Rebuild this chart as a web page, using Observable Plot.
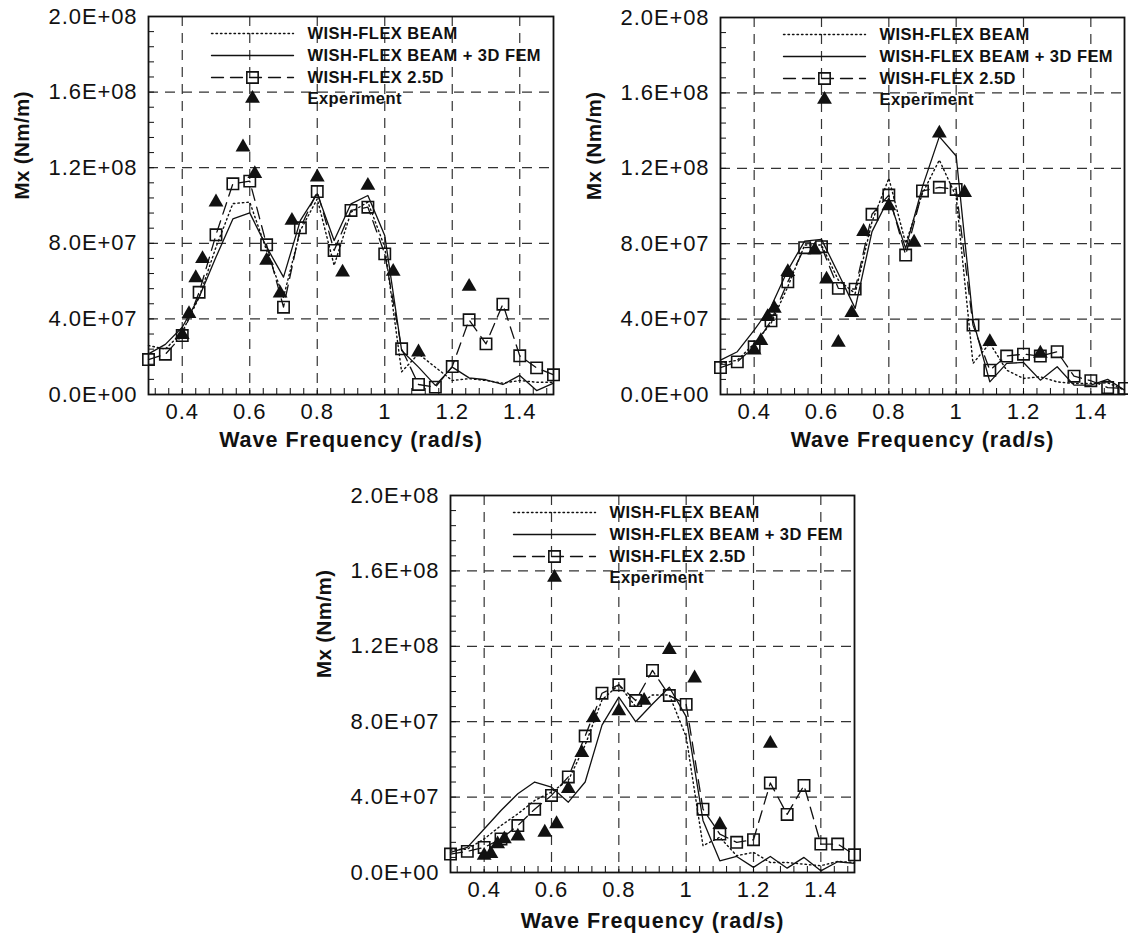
<!DOCTYPE html>
<html>
<head>
<meta charset="utf-8">
<script src="https://cdn.jsdelivr.net/npm/d3@7"></script>
<script src="https://cdn.jsdelivr.net/npm/@observablehq/plot@0.6"></script>
<style>
  html, body { margin: 0; padding: 0; background: #fff; }
  #wrap { position: relative; width: 1128px; height: 939px; overflow: hidden; }
  .panel { position: absolute; }
  .panel svg { max-width: none !important; overflow: visible; }
</style>
</head>
<body>
<div id="wrap"></div>
<script>
// ---------------- DATA (Mx values in units of 1E+07 Nm/m) ----------------
const freq = [0.30, 0.35, 0.40, 0.45, 0.50, 0.55, 0.60, 0.65, 0.70, 0.75, 0.80, 0.85, 0.90,
              0.95, 1.00, 1.05, 1.10, 1.15, 1.20, 1.25, 1.30, 1.35, 1.40, 1.45, 1.50];
const expFreq = [0.40, 0.42, 0.44, 0.46, 0.50, 0.58, 0.615, 0.65, 0.69, 0.725, 0.80, 0.875,
                 0.95, 1.025, 1.10, 1.25];

// Panel 1 (top-left)
const beam1 = [2.59, 2.40, 3.30, 5.15, 7.80, 10.10, 10.18, 7.62, 5.15, 8.68, 10.35, 6.83, 9.65,
               10.18, 7.80, 1.20, 2.15, 1.44, 0.74, 0.84, 0.74, 0.60, 0.74, 0.65, 0.65];
const fem1  = [2.15, 2.65, 3.56, 5.15, 7.27, 9.29, 9.61, 7.80, 6.21, 9.21, 10.62, 8.15, 10.09,
               10.53, 8.41, 2.33, 1.45, 0.48, 1.45, 0.88, 0.78, 0.53, 1.01, 0.21, 0.60];
const tdf1  = [1.85, 2.13, 3.12, 5.41, 8.45, 11.15, 11.29, 7.92, 4.62, 8.82, 10.74, 7.62, 9.74,
               9.91, 7.44, 2.42, 0.53, 0.39, 1.48, 3.95, 2.68, 4.78, 2.05, 1.41, 1.04];
const exp1  = [3.16, 4.27, 6.17, 7.18, 10.18, 13.09, 11.68, 7.09, 5.36, 9.21, 11.50, 6.47,
               11.06, 6.51, 2.24, 5.71];

// Panel 2 (top-right)
const beam2 = [1.65, 1.82, 2.70, 3.77, 5.72, 7.93, 7.93, 6.07, 5.36, 9.17, 11.47, 8.02, 10.67,
               12.44, 10.50, 1.65, 2.72, 1.29, 0.85, 0.94, 0.67, 0.58, 0.58, 0.62, 0.23];
const fem2  = [1.82, 2.27, 3.42, 4.65, 6.60, 8.14, 8.23, 6.42, 4.57, 8.64, 10.41, 7.75, 11.03,
               13.68, 12.65, 3.95, 0.67, 1.65, 1.70, 0.76, 1.47, 0.50, 0.50, 0.80, 0.23];
const tdf2  = [1.43, 1.73, 2.53, 3.91, 5.98, 7.79, 7.84, 5.63, 5.59, 9.56, 10.58, 7.40, 10.80,
               10.99, 10.88, 3.68, 1.29, 2.04, 2.14, 2.04, 2.27, 0.97, 0.73, 0.37, 0.32];
const exp2  = [2.35, 2.85, 4.12, 4.57, 6.51, 7.66, 6.11, 2.76, 4.34, 8.64, 10.00, 8.07,
               13.86, 10.71, 2.80, 2.18];

// Panel 3 (bottom-centre)
const beam3 = [1.19, 1.24, 1.78, 2.49, 3.11, 3.82, 4.27, 4.89, 6.76, 9.16, 9.96, 8.80, 9.42,
               9.42, 7.20, 1.42, 1.87, 0.89, 1.07, 0.53, 0.53, 0.44, 0.36, 0.59, 0.53];
const fem3  = [1.07, 1.33, 2.31, 3.29, 4.18, 4.80, 4.53, 3.73, 4.80, 7.82, 9.30, 8.00, 8.94,
               9.83, 8.27, 2.76, 0.62, 0.85, 0.27, 0.85, 0.23, 0.80, 0.09, 0.57, 0.48];
const tdf3  = [0.98, 1.12, 1.33, 1.78, 2.49, 3.36, 4.09, 5.07, 7.24, 9.51, 9.96, 9.12, 10.72,
               9.39, 8.92, 3.36, 2.04, 1.60, 1.74, 4.75, 3.08, 4.62, 1.51, 1.51, 0.94];
const exp3  = [0.90, 1.00, 1.51, 1.78, 1.92, 2.13, 2.58, 4.44, 6.35, 8.21, 8.57, 9.12,
               11.82, 10.31, 2.54, 6.84];

const UNIT = 1e7;

// Series names and axis text
const seriesNames = ["WISH-FLEX BEAM", "WISH-FLEX BEAM + 3D FEM", "WISH-FLEX 2.5D", "Experiment"];
const xTitle = "Wave Frequency (rad/s)";
const yTitle = "Mx (Nm/m)";

// Ticks
const xDomain = [0.3, 1.5];
const yDomain = [0, 2e8];
const xTicks = [0.4, 0.6, 0.8, 1, 1.2, 1.4];
const xTickLabels = ["0.4", "0.6", "0.8", "1", "1.2", "1.4"];
const yTicks = [0, 4e7, 8e7, 1.2e8, 1.6e8, 2e8];
const yTickLabels = ["0.0E+00", "4.0E+07", "8.0E+07", "1.2E+08", "1.6E+08", "2.0E+08"];
const xGrid = [0.4, 0.6, 0.8, 1, 1.2, 1.4];
const yGrid = [4e7, 8e7, 1.2e8, 1.6e8];
const xMinor = d3.range(0, 31).map(i => +(0.32 + i * 0.04).toFixed(2)).filter(v => v < 1.5);
const yMinor = d3.range(1, 25).map(i => i * 8e6);

// ---------------- DRAWING ----------------
const FONT = '"Liberation Sans", Arial, Helvetica, sans-serif';
const INK = "#111";

function table(xs, vals) { return xs.map((x, i) => ({x, y: vals[i] * UNIT})); }

function panel(cfg) {
  const {left, top, width, height, mL, mT, mR, mB, beam, fem, tdf, exp, xTitleDy} = cfg;
  const plotW = width - mL - mR, plotH = height - mT - mB;
  // legend layout (pixel offsets from the frame's top-left) converted through the domain
  const fx = px => xDomain[0] + px / plotW * (xDomain[1] - xDomain[0]);
  const fy = py => yDomain[1] - py / plotH * (yDomain[1] - yDomain[0]);
  const rows = [17, 39, 61, 82];
  const legLine = r => [{x: fx(63), y: fy(r)}, {x: fx(145), y: fy(r)}];
  const legMark = r => [{x: fx(104), y: fy(r)}];

  const beamStyle = {stroke: INK, strokeWidth: 1.4, strokeDasharray: "1.5,3"};
  const femStyle  = {stroke: INK, strokeWidth: 1.3};
  const tdfStyle  = {stroke: INK, strokeWidth: 1.3, strokeDasharray: "12,7"};
  const sqStyle   = {symbol: "square", r: 6.4, stroke: INK, strokeWidth: 1.6, fill: "none"};
  const triStyle  = {symbol: "triangle", r: 5.5, fill: INK, stroke: "none"};

  const chart = Plot.plot({
    width, height,
    marginLeft: mL, marginTop: mT, marginRight: mR, marginBottom: mB,
    x: {domain: xDomain},
    y: {domain: yDomain},
    style: {fontFamily: FONT, color: INK, background: "transparent", overflow: "visible"},
    marks: [
      Plot.gridX(xGrid, {stroke: "#333", strokeOpacity: 1, strokeWidth: 1.2, strokeDasharray: "10,7"}),
      Plot.gridY(yGrid, {stroke: "#333", strokeOpacity: 1, strokeWidth: 1.2, strokeDasharray: "10,7"}),
      Plot.tickY(yMinor, {y: d => d, stroke: INK, strokeWidth: 1, insetRight: plotW - 6}),
      Plot.tickX(xMinor, {x: d => d, stroke: INK, strokeWidth: 1, insetTop: plotH - 6}),
      Plot.line(table(freq, beam), {x: "x", y: "y", ...beamStyle}),
      Plot.line(table(freq, fem), {x: "x", y: "y", ...femStyle}),
      Plot.line(table(freq, tdf), {x: "x", y: "y", ...tdfStyle}),
      Plot.dot(table(freq, tdf), {x: "x", y: "y", ...sqStyle}),
      Plot.dot(table(expFreq, exp), {x: "x", y: "y", ...triStyle}),
      Plot.frame({stroke: INK, strokeWidth: 1.8}),
      Plot.axisX(xTicks, {tickSize: 0, tickPadding: 9, fontSize: 22, label: null,
        tickFormat: d => xTickLabels[xTicks.indexOf(d)]}),
      Plot.axisY(yTicks, {tickSize: 0, tickPadding: 11, fontSize: 22, label: null,
        tickFormat: d => yTickLabels[yTicks.indexOf(d)]}),
      Plot.text([xTitle], {frameAnchor: "bottom", dy: xTitleDy, fontSize: 21.5, fontWeight: "bold",
        lineAnchor: "middle", fill: INK}),
      Plot.text([yTitle], {frameAnchor: "left", dx: -126, dy: -6, rotate: -90, fontSize: 20.5,
        fontWeight: "bold", fill: INK}),
      // legend
      Plot.line(legLine(rows[0]), {x: "x", y: "y", ...beamStyle}),
      Plot.line(legLine(rows[1]), {x: "x", y: "y", ...femStyle}),
      Plot.line(legLine(rows[2]), {x: "x", y: "y", ...tdfStyle}),
      Plot.dot(legMark(rows[2]), {x: "x", y: "y", ...sqStyle}),
      Plot.dot(legMark(rows[3]), {x: "x", y: "y", ...triStyle}),
      Plot.text(seriesNames, {x: () => fx(159), y: (d, i) => fy(rows[i]), text: d => d,
        textAnchor: "start", lineAnchor: "middle", fontSize: 16.5, fontWeight: "bold", fill: INK})
    ]
  });
  // the reference's lettering is slightly wider than the installed Arial-metric font
  const sel = d3.select(chart);
  sel.selectAll("g[font-size='22'] text").style("letter-spacing", "0.9px");
  sel.selectAll("g[font-size='21.5'] text").style("letter-spacing", "1px");
  sel.selectAll("g[font-size='20.5'] text").style("letter-spacing", "0.4px");
  sel.selectAll("g[font-size='16.5'] text").style("letter-spacing", "0.45px");

  const div = document.createElement("div");
  div.className = "panel";
  div.style.left = left + "px";
  div.style.top = top + "px";
  div.style.width = width + "px";
  div.style.height = height + "px";
  div.appendChild(chart);
  document.getElementById("wrap").appendChild(div);
}

panel({left: 0,   top: 0,   width: 560, height: 470, mL: 148, mT: 16, mR: 7, mB: 76,
       beam: beam1, fem: fem1, tdf: tdf1, exp: exp1, xTitleDy: 46});
panel({left: 572, top: 0,   width: 556, height: 470, mL: 148, mT: 17, mR: 4, mB: 76,
       beam: beam2, fem: fem2, tdf: tdf2, exp: exp2, xTitleDy: 46});
panel({left: 302, top: 478, width: 556, height: 461, mL: 148, mT: 17, mR: 4, mB: 67,
       beam: beam3, fem: fem3, tdf: tdf3, exp: exp3, xTitleDy: 49});
</script>
</body>
</html>
